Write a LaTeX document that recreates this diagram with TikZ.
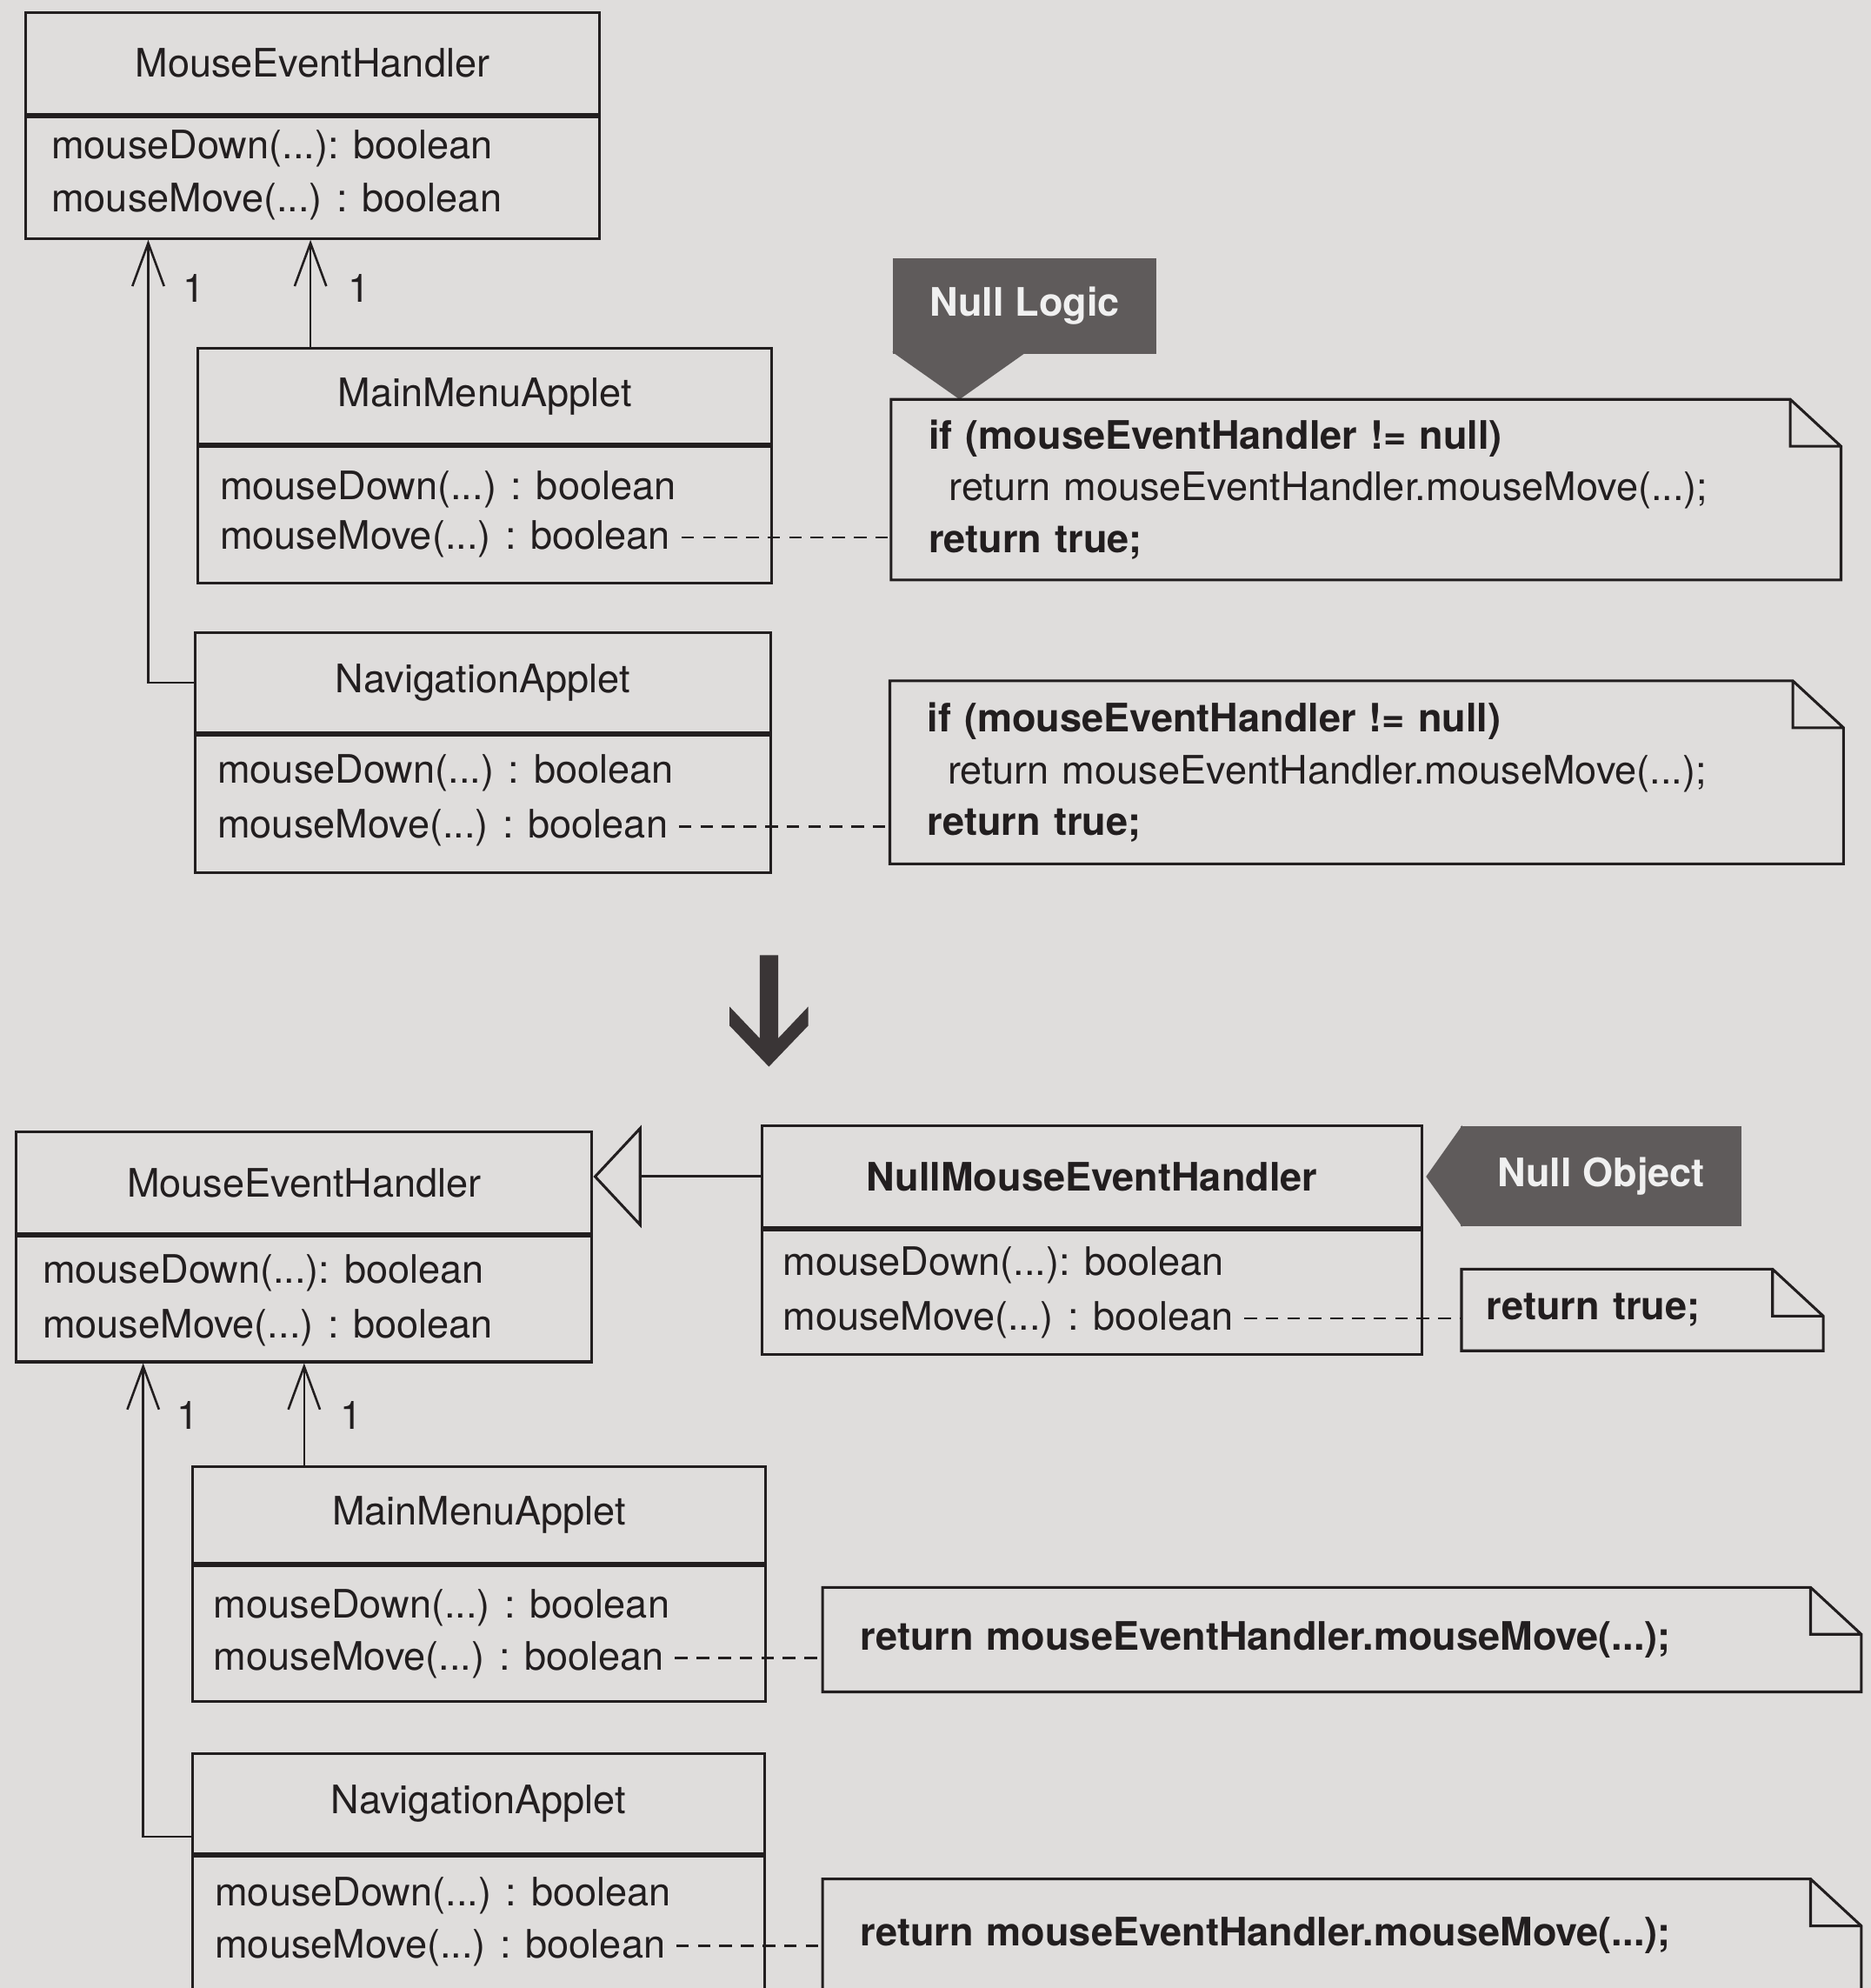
\documentclass[tikz,border=0pt]{standalone}
\usepackage{fontspec}
\setmainfont{TeX Gyre Heros}
\usetikzlibrary{arrows.meta,positioning}

\definecolor{paper}{HTML}{DFDDDC}
\definecolor{ink}{HTML}{221E1F}
\definecolor{tagfill}{HTML}{5F5B5B}
\definecolor{bigarrow}{HTML}{3A3536}

\newcommand{\umlfont}{\fontsize{8.8pt}{11.6pt}\selectfont}

\tikzset{
  clsname/.style={draw=ink, line width=0.6pt, rectangle, minimum height=0.8cm, inner sep=0pt, font=\umlfont, text=ink},
  clsbody/.style={draw=ink, line width=0.6pt, rectangle, anchor=north, inner sep=0pt},
  meth/.style={anchor=west, inner xsep=0.08cm, font=\umlfont, text=ink},
  notebox/.style={anchor=north west, align=left, inner xsep=0.29cm, font=\umlfont, text=ink},
  noteline/.style={draw=ink, line width=0.6pt, line join=miter},
  nav/.style={draw=ink, line width=0.5pt, -{Straight Barb[length=3.4mm,width=2.5mm]}},
  gen/.style={draw=ink, line width=0.6pt, -{Triangle[open,length=3.8mm,width=8.1mm]}},
  dashline/.style={draw=ink, line width=0.5pt, dash pattern=on 0.1cm off 0.07cm},
  tag/.style={fill=tagfill, text=white!94!black, font=\umlfont\bfseries, inner sep=0pt},
  mult/.style={font=\umlfont, text=ink, inner sep=0pt}
}

\begin{document}
\begin{tikzpicture}[x=1cm, y=-1cm]

      \useasboundingbox (0,0) rectangle (14.76,15.68);
      \clip (0,0) rectangle (14.76,15.68);
      \fill[paper] (0,0) rectangle (14.76,15.68);

      % before: null checks in every applet
      \node[clsname, minimum width=4.53cm] (aname) at (2.465,0.50) {MouseEventHandler};
      \node[clsbody, minimum width=4.53cm, minimum height=0.96cm] (abody) at (aname.south) {};
      \node[meth] (am1) at (0.32,1.17) {mouseDown(...): boolean};
      \node[meth] (am2) at (0.32,1.59) {mouseMove(...) : boolean};

      \node[clsname, minimum width=4.53cm, minimum height=0.75cm] (bname) at (3.825,3.125) {MainMenuApplet};
      \node[clsbody, minimum width=4.53cm, minimum height=1.08cm] (bbody) at (bname.south) {};
      \node[meth] (bm1) at (1.65,3.86) {mouseDown(...) : boolean};
      \node[meth] (bm2) at (1.65,4.25) {mouseMove(...) : boolean};

      \node[clsname, minimum width=4.54cm, minimum height=0.79cm] (cname) at (3.81,5.385) {NavigationApplet};
      \node[clsbody, minimum width=4.54cm, minimum height=1.08cm] (cbody) at (cname.south) {};
      \node[meth] (cm1) at (1.63,6.10) {mouseDown(...) : boolean};
      \node[meth] (cm2) at (1.63,6.53) {mouseMove(...) : boolean};

      \node[notebox, text width=6.90cm, minimum height=1.41cm] (n1) at (7.03,3.15)
        {\textbf{if (mouseEventHandler != null)}\\\hspace*{0.16cm}return mouseEventHandler.mouseMove(...);\\\textbf{return true;}};
      \node[notebox, text width=6.93cm, minimum height=1.43cm] (n2) at (7.02,5.37)
        {\textbf{if (mouseEventHandler != null)}\\\hspace*{0.16cm}return mouseEventHandler.mouseMove(...);\\\textbf{return true;}};

      \node[tag, minimum width=2.076cm, minimum height=0.75cm] (nl) at (8.084,2.414) {Null Logic};
      \fill[tagfill] ([yshift=0.02cm]nl.south west) -- ([xshift=0.54cm]n1.north west)
        -- ([xshift=1.06cm,yshift=0.02cm]nl.south west) -- cycle;

      \coordinate (bup) at ([xshift=0.90cm]bname.north west);
      \draw[nav] (bup) -- (bup |- abody.south);
      \coordinate (cleft) at ([xshift=-0.36cm]cname.west);
      \draw[nav] (cname.west) -- (cleft) -- (cleft |- abody.south);
      \node[mult] (mul1) at (1.53,2.275) {1};
      \node[mult] (mul2) at (2.835,2.275) {1};

      \draw[dashline] (bm2.mid east) -- (bm2.mid east -| n1.west);
      \draw[dashline] (cm2.mid east) -- (cm2.mid east -| n2.west);

      % refactoring arrow
      \fill[bigarrow] (5.994,7.533) -- (6.139,7.533) -- (6.139,8.19) -- (6.376,7.94) -- (6.376,8.09)
        -- (6.066,8.413) -- (5.756,8.09) -- (5.756,7.94) -- (5.994,8.19) -- cycle;

      % after: a null object
      \node[clsname, minimum width=4.54cm] (dname) at (2.40,9.33) {MouseEventHandler};
      \node[clsbody, minimum width=4.54cm, minimum height=0.99cm] (dbody) at (dname.south) {};
      \node[meth] (dm1) at (0.25,10.04) {mouseDown(...): boolean};
      \node[meth] (dm2) at (0.25,10.47) {mouseMove(...) : boolean};

      \node[clsname, minimum width=5.21cm, font=\umlfont\bfseries] (ename) at (8.615,9.28) {NullMouseEventHandler};
      \node[clsbody, minimum width=5.21cm, minimum height=0.98cm] (ebody) at (ename.south) {};
      \node[meth] (em1) at (6.09,9.98) {mouseDown(...): boolean};
      \node[meth] (em2) at (6.09,10.41) {mouseMove(...) : boolean};

      \node[tag, minimum width=2.217cm, minimum height=0.788cm] (no) at (12.632,9.276) {Null Object};
      \fill[tagfill] ([xshift=0.02cm]no.north west) -- ([xshift=0.02cm]ename.east)
        -- ([xshift=0.02cm]no.south west) -- cycle;

      \node[notebox, inner xsep=0.19cm, text width=2.46cm, minimum height=0.63cm] (n3) at (11.53,10.01) {\textbf{return true;}};

      \node[clsname, minimum width=4.52cm, minimum height=0.76cm] (gname) at (3.78,11.95) {MainMenuApplet};
      \node[clsbody, minimum width=4.52cm, minimum height=1.07cm] (gbody) at (gname.south) {};
      \node[meth] (gm1) at (1.60,12.68) {mouseDown(...) : boolean};
      \node[meth] (gm2) at (1.60,13.09) {mouseMove(...) : boolean};

      \node[clsname, minimum width=4.51cm, minimum height=0.79cm] (hname) at (3.775,14.225) {NavigationApplet};
      \node[clsbody, minimum width=4.51cm, minimum height=1.5cm] (hbody) at (hname.south) {};
      \node[meth] (hm1) at (1.61,14.95) {mouseDown(...) : boolean};
      \node[meth] (hm2) at (1.61,15.36) {mouseMove(...) : boolean};

      \node[notebox, text width=7.60cm, minimum height=0.81cm] (n4) at (6.49,12.52) {\textbf{return mouseEventHandler.mouseMove(...);}};
      \node[notebox, text width=7.60cm, minimum height=1.28cm, text depth=0.46cm] (n5) at (6.49,14.82) {\textbf{return mouseEventHandler.mouseMove(...);}};

      \draw[gen] (ename.west) -- (ename.west -| dname.east);
      \coordinate (gup) at ([xshift=0.89cm]gname.north west);
      \draw[nav] (gup) -- (gup |- dbody.south);
      \coordinate (hleft) at ([xshift=-0.38cm,yshift=-0.26cm]hname.west);
      \draw[nav] ([yshift=-0.26cm]hname.west) -- (hleft) -- (hleft |- dbody.south);
      \node[mult] (mul3) at (1.48,11.16) {1};
      \node[mult] (mul4) at (2.77,11.16) {1};

      \draw[dashline] (em2.mid east) -- (em2.mid east -| n3.west);
      \draw[dashline] (gm2.mid east) -- (gm2.mid east -| n4.west);
      \draw[dashline] (hm2.mid east) -- (hm2.mid east -| n5.west);

      % dog-eared note outlines
      \foreach \n in {n1,n2,n3,n4,n5}
        \draw[noteline] (\n.south west) -- (\n.north west) -- ([xshift=-0.4cm]\n.north east)
          -- ([yshift=-0.37cm]\n.north east) -- (\n.south east) -- cycle
          ([xshift=-0.4cm]\n.north east) |- ([yshift=-0.37cm]\n.north east);

    \end{tikzpicture}
\end{document}
